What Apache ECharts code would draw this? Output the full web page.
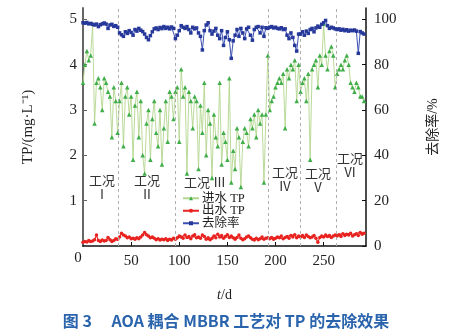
<!DOCTYPE html>
<html><head><meta charset="utf-8">
<script src="https://cdn.jsdelivr.net/npm/echarts@6/dist/echarts.min.js"></script>
<style>html,body{margin:0;padding:0;background:#fff}#c{width:458px;height:336px}</style>
</head><body><div id="c"></div>
<script>
// sampling interval of the daily record (days)
const dayStep = 2;
// influent TP (mg/L), stages I..VI
const influentTP = [
 3.6,4.0,4.3,4.1,4.2,4.9,2.7,3.6,3.7,3.5,3.0,3.7,3.6,3.4,3.3,2.4,3.5,3.2,2.5,
 3.2,3.6,2.2,3.3,3.5,2.9,3.3,1.9,3.1,3.4,2.4,3.2,2.0,1.6,2.7,3.0,1.9,2.8,3.2,2.5,2.2,3.0,1.8,2.6,3.2,2.3,3.4,3.3,2.8,
 3.4,3.5,2.3,3.9,3.3,3.5,1.6,3.4,3.2,2.6,3.3,3.2,1.7,3.1,2.5,3.6,2.0,3.0,2.7,1.5,2.9,2.4,2.2,3.6,1.8,2.5,2.3,1.9,3.7,1.4,
 2.1,1.7,2.6,2.4,1.3,2.3,2.6,2.5,2.2,2.8,2.6,2.9,2.4,3.0,2.7,2.9,1.4,2.9,
 4.2,3.0,3.2,3.3,3.5,3.6,3.7,3.6,3.8,2.6,3.9,3.7,4.0,3.9,4.1,3.2,4.0,
 3.4,3.6,3.7,3.2,3.8,1.9,3.9,4.0,4.1,3.5,4.2,4.0,4.9,4.2,3.9,4.3,4.4,4.2,3.5,
 3.8,3.9,4.0,3.9,4.1,4.2,4.0,3.6,3.5,3.4,3.6,3.5,3.3,3.3,3.2
];
// effluent TP (mg/L)
const effluentTP = [
 0.08,0.10,0.09,0.12,0.10,0.11,0.14,0.24,0.12,0.10,0.13,0.11,0.12,0.19,0.14,0.10,0.12,0.16,0.15,
 0.20,0.28,0.24,0.22,0.18,0.20,0.16,0.17,0.15,0.18,0.16,0.20,0.24,0.30,0.25,0.22,0.18,0.20,0.17,0.14,0.16,0.13,0.15,0.14,0.16,0.12,0.15,0.13,0.17,
 0.15,0.18,0.22,0.20,0.17,0.24,0.19,0.21,0.16,0.22,0.25,0.18,0.20,0.17,0.24,0.21,0.15,0.18,0.14,0.17,0.22,0.18,0.26,0.20,0.23,0.17,0.21,0.25,0.19,0.22,
 0.18,0.15,0.19,0.24,0.17,0.14,0.16,0.20,0.22,0.18,0.15,0.13,0.17,0.14,0.16,0.20,0.15,0.17,
 0.18,0.16,0.19,0.15,0.17,0.20,0.18,0.22,0.16,0.19,0.21,0.17,0.23,0.20,0.25,0.18,0.22,
 0.20,0.23,0.19,0.24,0.21,0.18,0.20,0.23,0.17,0.08,0.19,0.22,0.20,0.24,0.21,0.23,0.19,0.22,0.24,
 0.22,0.25,0.21,0.27,0.23,0.26,0.24,0.28,0.22,0.25,0.27,0.23,0.30,0.26,0.28
];
// removal rate (%)
const removalRate = [
 98.5,98.3,98.6,98.0,98.2,97.8,97.5,97.9,96.8,97.6,98.0,98.4,97.9,96.0,97.5,97.8,96.9,97.2,96.5,
 94.0,93.2,92.5,94.5,93.8,95.0,94.2,93.0,95.5,94.8,96.0,95.2,94.6,93.5,92.0,91.0,92.8,94.5,95.8,96.2,95.5,96.4,95.9,96.8,96.0,96.5,95.8,96.6,96.0,
 91.5,93.0,95.0,97.2,96.5,96.0,96.8,95.5,94.0,96.5,95.8,96.2,94.0,92.5,86.5,95.0,97.5,98.5,95.0,93.5,94.8,96.0,93.0,91.5,95.0,88.5,92.0,94.5,91.0,82.8,
 90.5,93.0,95.5,92.5,96.0,94.0,91.5,95.8,96.5,93.0,90.8,95.5,96.5,96.8,94.0,96.5,92.5,96.3,
 96.0,96.5,96.8,96.2,96.5,96.0,95.8,96.3,95.5,95.8,93.0,91.5,94.0,92.0,88.5,86.0,93.5,
 93.5,94.5,93.0,94.8,93.8,95.5,96.0,94.5,96.2,97.0,96.5,97.8,98.5,99.5,97.2,96.0,96.5,96.2,95.8,
 95.5,95.8,95.2,95.6,95.0,95.4,94.8,95.2,95.0,95.3,94.8,85.0,94.6,94.0,93.5
];
// stage boundaries (day)
const stageBounds = [37, 96, 192, 226, 263];
const stageNames = ['工况\nⅠ','工况\nⅡ','工况 Ⅲ','工况\nⅣ','工况\nⅤ','工况\nⅥ'];
const seriesNames = ['进水 TP','出水 TP','去除率'];
const xTicks = [0,50,100,150,200,250];
const leftTicks = [0,1,2,3,4,5];
const rightTicks = [0,20,40,60,80,100];

const pair = arr => arr.map((v,i)=>[i*dayStep, v]);
const serif = '"Liberation Serif","Noto Sans CJK SC"';
const cjk = '"Noto Sans CJK SC"';

const chart = echarts.init(document.getElementById('c'), null, {renderer:'canvas'});
const stagePos = [[102,187],[147,187],[205,182],[285,179],[318,180],[350,165]];
chart.setOption({
  animation:false,
  backgroundColor:'#fff',
  grid:{left:83, right:92, top:8, bottom:90},
  legend:{
    orient:'vertical', left:182, top:192, itemGap:0, itemWidth:16, itemHeight:5, padding:0,
    textStyle:{fontFamily:serif, fontSize:12.5, lineHeight:12, color:'#222', padding:[0,0,0,-2]},
    data:seriesNames
  },
  xAxis:{
    type:'value', min:0, max:294, interval:50,
    name:'{i|t}/d', nameLocation:'middle', nameGap:42,
    nameTextStyle:{fontFamily:serif, fontSize:14, color:'#222', rich:{i:{fontStyle:'italic', fontFamily:serif, fontSize:14, color:'#222'}}},
    axisLine:{lineStyle:{color:'#111', width:1.5}},
    axisTick:{inside:true, length:4, lineStyle:{color:'#111'}},
    axisLabel:{fontFamily:serif, fontSize:15, color:'#222', margin:8, showMinLabel:false, showMaxLabel:false,
      formatter:v=> xTicks.includes(v)? String(v):''},
    splitLine:{show:false}
  },
  yAxis:[{
    type:'value', min:0, max:5.25, interval:1, position:'left',
    name:'TP/(mg·L⁻¹)', nameLocation:'middle', nameGap:47, nameRotate:90,
    nameTextStyle:{fontFamily:serif, fontSize:15, color:'#222'},
    axisLine:{show:true, lineStyle:{color:'#666', width:2}},
    axisTick:{show:true, inside:true, length:4, lineStyle:{color:'#666'}},
    axisLabel:{fontFamily:serif, fontSize:15, color:'#222', margin:6, showMinLabel:false, showMaxLabel:false,
      formatter:v=> leftTicks.includes(v)? String(v):''},
    splitLine:{show:false}
  },{
    type:'value', min:0, max:105, interval:20, position:'right',
    name:'去除率/%', nameLocation:'middle', nameGap:60, nameRotate:90,
    nameTextStyle:{fontFamily:serif, fontSize:14, color:'#222'},
    axisLine:{show:true, lineStyle:{color:'#111', width:1.5}},
    axisTick:{show:true, inside:true, length:4, lineStyle:{color:'#111'}},
    axisLabel:{fontFamily:serif, fontSize:15, color:'#222', margin:8, showMaxLabel:false,
      formatter:v=> rightTicks.includes(v)? String(v):''},
    splitLine:{show:false}
  }],
  series:[{
    name:seriesNames[0], type:'line', yAxisIndex:0, data:pair(influentTP),
    symbol:'triangle', symbolSize:4.5, showAllSymbol:true, z:3,
    lineStyle:{color:'#b3d68e', width:0.9},
    itemStyle:{color:'#3fae49'},
    markLine:{silent:true, symbol:'none', label:{show:false},
      lineStyle:{type:[3,3], color:'#b0b0b0', width:1},
      data:stageBounds.map(d=>({xAxis:d}))}
  },{
    name:seriesNames[1], type:'line', yAxisIndex:0, data:pair(effluentTP),
    symbol:'circle', symbolSize:3.5, showAllSymbol:true, z:4,
    lineStyle:{color:'#e8231f', width:1.2},
    itemStyle:{color:'#e8231f'}
  },{
    name:seriesNames[2], type:'line', yAxisIndex:1, data:pair(removalRate),
    symbol:'rect', symbolSize:3.5, showAllSymbol:true, z:5,
    lineStyle:{color:'#3a4fb0', width:1},
    itemStyle:{color:'#26389a'}
  }],
  graphic:[
    ...stageNames.map((t,i)=>({type:'text', x:stagePos[i][0], y:stagePos[i][1], z:10,
      style:{text:t, fill:'#333', font:'13px '+cjk, textAlign:'center', textVerticalAlign:'middle', lineHeight:14}})),
    {type:'text', x:78, y:258, style:{text:'0', fill:'#222', font:'15px '+serif, textAlign:'center', textVerticalAlign:'middle'}},
    {type:'text', x:226, y:321, style:{text:'图 3　 AOA 耦合 MBBR 工艺对 TP 的去除效果', fill:'#2a64ad', font:'bold 16px '+cjk, textAlign:'center', textVerticalAlign:'middle'}}
  ]
});
</script></body></html>
